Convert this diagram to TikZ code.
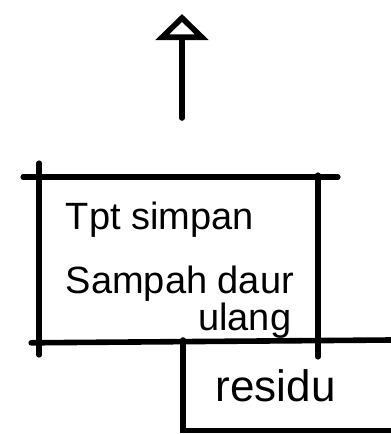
\documentclass[tikz,border=0pt]{standalone}
\usepackage{fontspec}
\setmainfont{Liberation Sans}
\usetikzlibrary{arrows.meta,positioning}
\begin{document}
\begin{tikzpicture}[x=0.5pt,y=-0.5pt,line width=2.8pt,line cap=round]
\useasboundingbox (0,0) rectangle (391,434);
\clip (0,0) rectangle (391,434);
\tikzset{
  sketch/.style={line width=2.8pt,line cap=round},
  label/.style={font=\fontsize{19}{23}\selectfont,inner sep=0pt}
}
% main box
\node[minimum width=273*0.5pt,minimum height=160*0.5pt,inner sep=0pt] (simpan) at (178.5,260) {};
\draw[sketch] ([xshift=-8pt]simpan.north west) -- ([xshift=10pt]simpan.north east);
\draw[sketch] ([yshift=7pt]simpan.north west) -- ([yshift=-6pt]simpan.south west);
\draw[sketch] ([yshift=1pt]simpan.north east) -- ([yshift=-7pt]simpan.south east);
\draw[sketch] ([xshift=-4pt]simpan.south west) -- (391,340);
\node[label,anchor=west] (tpt) at (63,220) {Tpt simpan};
\node[label,anchor=west] (daur) at (63,284) {Sampah daur};
\node[label,anchor=east] (ulang) at (294,321) {ulang};
% residu box
\node[minimum width=230*0.5pt,minimum height=85*0.5pt,inner sep=0pt,anchor=north west] (residu) at (183,340) {};
\draw[sketch] (residu.north west) -- (residu.south west) -- ([xshift=-3pt]residu.south east);
\node[label,anchor=west,font=\fontsize{22}{26}\selectfont] (res) at (213,386) {residu};
% output arrow
\coordinate (pangkal) at (182,118);
\coordinate (atas) at (182,14);
\draw[sketch,-{Triangle[open,length=13pt,width=26pt,line width=2.8pt]}] (pangkal) -- (atas);
\end{tikzpicture}
\end{document}
